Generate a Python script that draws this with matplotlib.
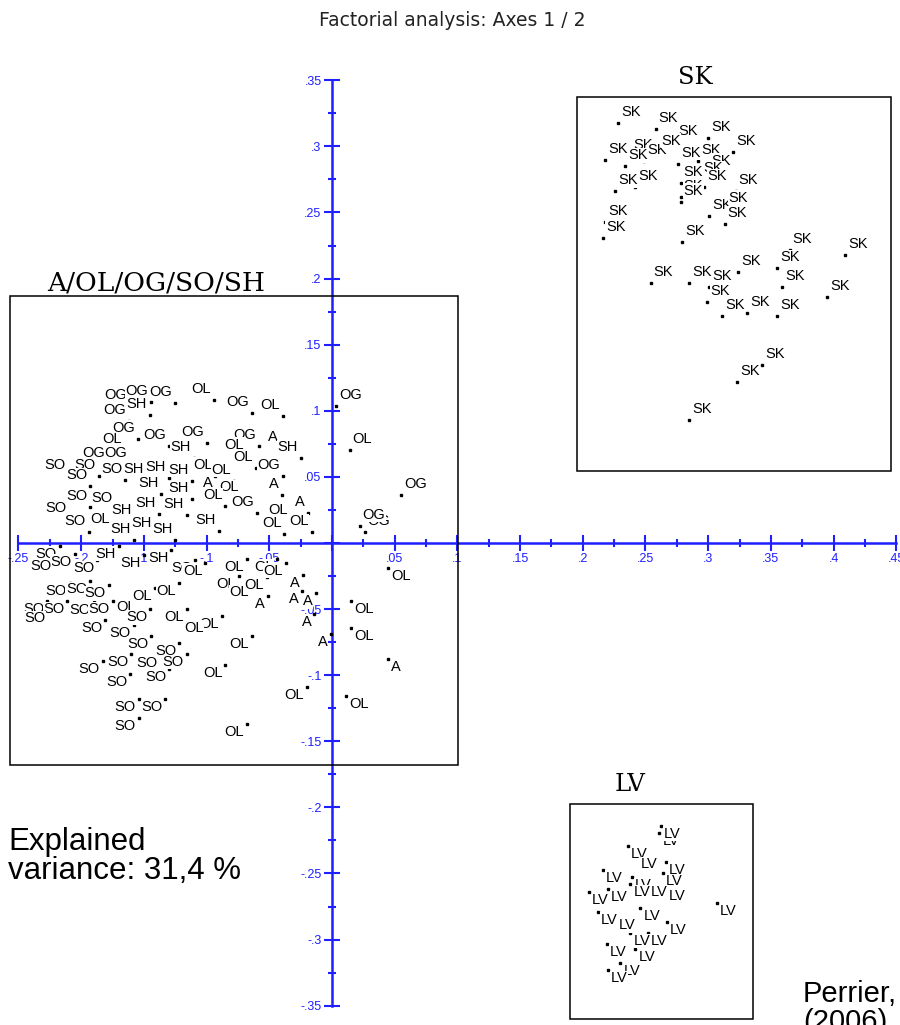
import matplotlib
matplotlib.use("Agg")
import matplotlib.pyplot as plt
from matplotlib.patches import Rectangle
import numpy as np

# factor scores, group A/OL/OG/SO/SH
main_lab = ["OG", "OG", "OG", "OL", "SH", "OG", "OG", "OL", "OG", "OL",
            "OG", "OG", "SH", "OG", "A", "OL", "SH", "OG", "OG", "SO",
            "SO", "SO", "SH", "SH", "SH", "OL", "OL", "OL", "OG", "SO",
            "SH", "SH", "A", "OL", "A", "SO", "SO", "SO", "SH", "SH",
            "SH", "OL", "OG", "OL", "A", "SO", "OL", "SH", "SH", "SH",
            "SH", "OL", "OL",
            "OG", "OL", "OG", "OG", "OG",
            "OL", "OL", "OL", "A", "OL",
            "SO", "SO", "SO", "SO", "SH", "SH", "SH", "SO", "OL", "SO",
            "SO", "SO", "OL", "OL", "SO", "SO", "SO", "SO", "SO", "OL",
            "SO", "OL", "OL", "OL", "SO", "SO", "SO", "SO", "SO", "SO",
            "SO", "SO", "SO", "SO", "OL", "SO", "SO", "SO", "OL", "OL",
            "OL", "OL", "OL", "OL", "A", "A", "A", "A", "A", "A",
            "OL", "OL", "OL"]
main_x = [-0.161, -0.144, -0.125, -0.094, -0.145, -0.162, -0.064, -0.039, -0.155, -0.165,
          -0.130, -0.100, -0.110, -0.058, -0.041, -0.068, -0.025, -0.179, -0.161, -0.210,
          -0.186, -0.165, -0.148, -0.130, -0.112, -0.093, -0.078, -0.061, -0.039, -0.193,
          -0.136, -0.112, -0.093, -0.072, -0.040, -0.193, -0.173, -0.209, -0.157, -0.138,
          -0.116, -0.085, -0.060, -0.033, -0.019, -0.194, -0.175, -0.158, -0.141, -0.125,
          -0.090, -0.038, -0.016,
          0.003, 0.014, 0.055, 0.026, 0.022,
          0.045, 0.015, 0.015, 0.045, 0.011,
          -0.217, -0.205, -0.221, -0.187, -0.170, -0.150, -0.128, -0.109, -0.101, -0.209,
          -0.193, -0.178, -0.141, -0.122, -0.227, -0.211, -0.226, -0.190, -0.175, -0.154,
          -0.145, -0.116, -0.088, -0.100, -0.181, -0.158, -0.144, -0.122, -0.116, -0.183,
          -0.160, -0.137, -0.161, -0.130, -0.085, -0.154, -0.133, -0.154, -0.068, -0.044,
          -0.037, -0.074, -0.064, -0.052, -0.023, -0.051, -0.024, -0.013, -0.014, -0.001,
          -0.064, -0.020, -0.068]
main_y = [0.104, 0.107, 0.106, 0.108, 0.097, 0.092, 0.098, 0.096, 0.079, 0.070,
          0.073, 0.076, 0.064, 0.073, 0.072, 0.066, 0.064, 0.060, 0.060, 0.051,
          0.051, 0.048, 0.048, 0.049, 0.047, 0.051, 0.047, 0.057, 0.051, 0.043,
          0.037, 0.033, 0.037, 0.034, 0.036, 0.027, 0.026, 0.018, 0.017, 0.022,
          0.021, 0.028, 0.023, 0.017, 0.023, 0.008, 0.010, 0.002, 0.007, 0.002,
          0.009, 0.007, 0.008,
          0.104, 0.070, 0.036, 0.008, 0.013,
          -0.019, -0.044, -0.064, -0.088, -0.116,
          -0.002, -0.008, -0.011, -0.013, -0.002, -0.009, -0.005, -0.013, -0.015, -0.030,
          -0.029, -0.032, -0.034, -0.030, -0.044, -0.044, -0.051, -0.045, -0.044, -0.042,
          -0.050, -0.050, -0.055, -0.058, -0.058, -0.062, -0.070, -0.076, -0.084, -0.089,
          -0.084, -0.085, -0.099, -0.095, -0.092, -0.118, -0.118, -0.132, -0.012, -0.012,
          -0.015, -0.025, -0.031, -0.026, -0.024, -0.040, -0.036, -0.038, -0.054, -0.069,
          -0.070, -0.109, -0.137]

# group SK
sk_x = [0.228, 0.258, 0.274, 0.300, 0.320, 0.218, 0.238, 0.249, 0.260, 0.234,
        0.276, 0.292, 0.300, 0.226, 0.242, 0.278, 0.294, 0.297, 0.278, 0.322,
        0.278, 0.301, 0.314, 0.313, 0.218, 0.216, 0.279, 0.365, 0.409, 0.254,
        0.285, 0.324, 0.355, 0.301, 0.299, 0.359, 0.395, 0.311, 0.331, 0.355,
        0.343, 0.323, 0.285]
sk_y = [0.318, 0.313, 0.303, 0.306, 0.296, 0.290, 0.293, 0.289, 0.296, 0.285,
        0.287, 0.289, 0.281, 0.266, 0.269, 0.272, 0.275, 0.269, 0.262, 0.266,
        0.258, 0.247, 0.253, 0.241, 0.243, 0.231, 0.228, 0.222, 0.218, 0.197,
        0.197, 0.205, 0.208, 0.194, 0.182, 0.194, 0.186, 0.172, 0.174, 0.172,
        0.135, 0.122, 0.093]

# group LV
lv_x = [0.261, 0.262, 0.236, 0.244, 0.266, 0.216, 0.264, 0.239, 0.238, 0.252,
        0.205, 0.220, 0.266, 0.307, 0.212, 0.226, 0.246, 0.267, 0.238, 0.252,
        0.219, 0.242, 0.230, 0.220]
lv_y = [-0.219, -0.214, -0.229, -0.237, -0.241, -0.247, -0.250, -0.253, -0.258, -0.258,
        -0.264, -0.262, -0.261, -0.272, -0.279, -0.283, -0.276, -0.287, -0.295, -0.295,
        -0.303, -0.307, -0.318, -0.323]

labels = main_lab + ["SK"] * len(sk_x) + ["LV"] * len(lv_x)
xs = main_x + sk_x + lv_x
ys = main_y + sk_y + lv_y

blue = "#1f1fff"

fig = plt.figure(figsize=(9, 10.25), dpi=100)
ax = fig.add_axes([0, 0, 1, 1])
ax.set_xlim(-0.26475, 0.45295)
ax.set_ylim(-0.3646, 0.41074)

for s in ["top", "right"]:
    ax.spines[s].set_visible(False)
ax.spines["left"].set_position(("data", 0))
ax.spines["bottom"].set_position(("data", 0))
ax.spines["left"].set_bounds(-0.35, 0.35)
ax.spines["bottom"].set_bounds(-0.25, 0.45)
for s in ["left", "bottom"]:
    ax.spines[s].set_color(blue)
    ax.spines[s].set_linewidth(1.8)


def fmt(v, pos=None):
    if abs(v) < 1e-9:
        return ""
    s = ("%.2f" % v).rstrip("0")
    return s.replace("0.", ".")


ax.set_xticks(np.arange(-0.25, 0.4501, 0.05))
ax.set_xticks(np.arange(-0.225, 0.45, 0.05), minor=True)
ax.set_yticks(np.arange(-0.35, 0.3501, 0.05))
ax.set_yticks(np.arange(-0.325, 0.35, 0.05), minor=True)
ax.xaxis.set_major_formatter(plt.FuncFormatter(fmt))
ax.yaxis.set_major_formatter(plt.FuncFormatter(fmt))
ax.tick_params(which="major", direction="inout", length=11, width=1.5,
               color=blue, labelcolor=blue, labelsize=9, pad=2)
ax.tick_params(which="minor", direction="inout", length=6, width=1.5, color=blue)
for t in ax.get_xticklabels() + ax.get_yticklabels():
    t.set_family("Liberation Sans")

ax.plot(xs, ys, "s", color="black", markersize=2, zorder=4)

for lab, x, y in zip(labels, xs, ys):
    sx = 1 if x >= 0 else -1
    up = y >= 0
    ax.annotate(lab, (x, y), xytext=(3 * sx, 4 if up else -1), textcoords="offset pixels",
                ha="left" if sx > 0 else "right", va="bottom" if up else "top",
                fontsize=10.5, family="Liberation Sans", color="black", zorder=5,
                bbox=dict(facecolor="white", edgecolor="none", pad=0.3))

# group boxes
ax.add_patch(Rectangle((-0.2568, -0.1679), 0.3573, 0.3547, fill=False, lw=1.1, ec="black", zorder=6))
ax.add_patch(Rectangle((0.1954, 0.0545), 0.2504, 0.2829, fill=False, lw=1.1, ec="black", zorder=6))
ax.add_patch(Rectangle((0.1898, -0.3601), 0.1459, 0.1627, fill=False, lw=1.1, ec="black", zorder=6))

ax.text(-0.140, 0.197, "A/OL/OG/SO/SH", ha="center", va="center", fontsize=19,
        family="DejaVu Serif")
ax.text(0.290, 0.352, "SK", ha="center", va="center", fontsize=17.5, family="DejaVu Serif")
ax.text(0.238, -0.183, "LV", ha="center", va="center", fontsize=17.5, family="DejaVu Serif")

fig.text(452 / 900, 1 - 20 / 1025, "Factorial analysis: Axes 1 / 2", ha="center", va="center",
         fontsize=13.5, family="DejaVu Sans", color="#222222")
fig.text(8 / 900, 1 - 827 / 1025, "Explained\nvariance: 31,4 %", ha="left", va="top",
         fontsize=22.5, family="Liberation Sans", linespacing=0.95)
fig.text(803 / 900, 1 - 980 / 1025, "Perrier,\n(2006)", ha="left", va="top",
         fontsize=21, family="Liberation Sans", linespacing=1.0)

fig.savefig("out.png", dpi=100)
